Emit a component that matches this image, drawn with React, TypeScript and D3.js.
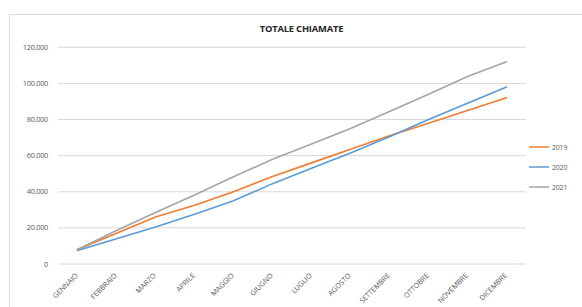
import React from "react";
import * as d3 from "d3";

const months = ["GENNAIO","FEBBRAIO","MARZO","APRILE","MAGGIO","GIUGNO","LUGLIO","AGOSTO","SETTEMBRE","OTTOBRE","NOVEMBRE","DICEMBRE"];
const s2019 = [8000,17000,26000,32500,40000,48500,56000,63500,71000,78000,85000,92000];
const s2020 = [7500,14000,20500,27500,35000,44500,53000,61500,70500,80000,89000,98000];
const s2021 = [8000,18500,28500,38200,48300,58000,66500,75000,84500,94000,103800,112000];
const yTicks = [0,20000,40000,60000,80000,100000,120000];
const seriesNames = ["2019","2020","2021"];
const colors = ["#ED7D31","#5B9BD5","#A5A5A5"];

export default function App() {
  const W = 582, H = 307;
  const x = d3.scaleBand<string>().domain(months).range([58, 526]);
  const y = d3.scaleLinear().domain([0, 120000]).range([264, 47.3]);
  const fmt = (v: number) => v === 0 ? "0" : d3.format(",")(v).replace(/,/g, ".");
  const line = d3.line<number>().x((_, i) => (x(months[i]) as number) + x.bandwidth() / 2).y(v => y(v));
  const data = [s2019, s2020, s2021];
  const font = "'Open Sans', 'Liberation Sans', sans-serif";
  return (
    <svg width={W} height={H} style={{ position: "absolute", left: 0, top: 0, background: "#fff" }} fontFamily={font}>
      <rect x={9.5} y={14.5} width={W} height={H} fill="#fff" stroke="#d9d9d9" />
      <text x={301.5} y={32} textAnchor="middle" fontSize={9.4} fontWeight="bold" fill="#262626" letterSpacing={-0.2}>TOTALE CHIAMATE</text>
      {yTicks.map(t => (
        <g key={t}>
          <line x1={58} x2={526} y1={y(t)} y2={y(t)} stroke="#e0d6d3" strokeWidth={1} />
          <text x={48} y={y(t) + 2.6} textAnchor="end" fontSize={7.4} fill="#595959" letterSpacing={-0.3}>{fmt(t)}</text>
        </g>
      ))}
      {months.map(m => {
        const cx = (x(m) as number) + x.bandwidth() / 2;
        return (
          <text key={m} transform={`translate(${cx + 1},${276}) rotate(-45)`} textAnchor="end" fontSize={7.2} fill="#595959">{m}</text>
        );
      })}
      {data.map((d, i) => (
        <path key={i} d={line(d) as string} fill="none" stroke={colors[i]} strokeWidth={1.6} strokeLinejoin="round" strokeLinecap="round" />
      ))}
      {seriesNames.map((n, i) => (
        <g key={n}>
          <line x1={529} x2={549} y1={147 + i * 20} y2={147 + i * 20} stroke={colors[i]} strokeWidth={1.5} />
          <text x={552} y={149.5 + i * 20} fontSize={7} fill="#595959" letterSpacing={-0.2}>{n}</text>
        </g>
      ))}
    </svg>
  );
}
